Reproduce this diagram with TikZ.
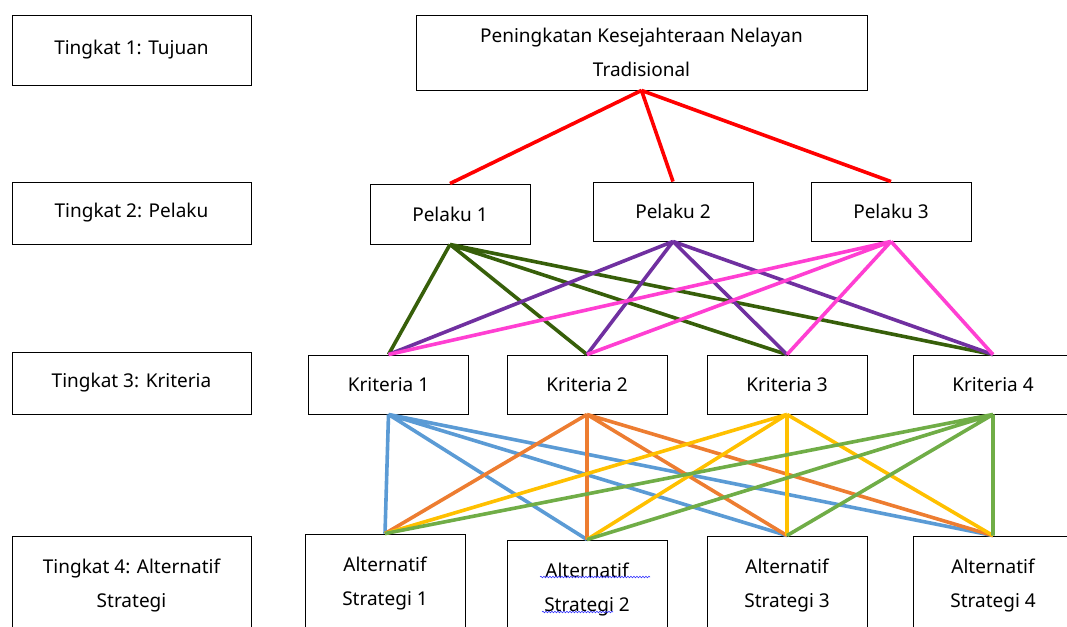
\documentclass[tikz,border=0pt]{standalone}
\usepackage{fontspec}
\setmainfont{Noto Sans}
\usepackage{xcolor}
\usetikzlibrary{positioning, decorations.pathmorphing}

\definecolor{goalred}{HTML}{FF0000}
\definecolor{actorA}{HTML}{375F0A}
\definecolor{actorB}{HTML}{7030A0}
\definecolor{actorC}{HTML}{FF3FD2}
\definecolor{critA}{HTML}{5B9BD5}
\definecolor{critB}{HTML}{ED7D31}
\definecolor{critC}{HTML}{FFC000}
\definecolor{critD}{HTML}{70AD47}

\begin{document}
\begin{tikzpicture}[x=1pt, y=-1pt,
  box/.style={draw, line width=0.9pt, minimum width=160pt, minimum height=60pt,
              inner sep=0pt, align=center, font=\fontsize{19}{34}\selectfont},
  level/.style={box, minimum width=239pt},
  link/.style={line width=3.6pt},
  squiggle/.style={blue!80, line width=0.6pt, decorate,
                   decoration={snake, amplitude=0.8pt, segment length=3pt}}]
  \clip (0,0) rectangle (1067,626);

  % levels on the left
  \node[level, minimum height=70pt]  (lvA) at (131.5,50)  {Tingkat 1: Tujuan};
  \node[level, minimum height=62pt]  (lvB) at (131.5,213) {Tingkat 2: Pelaku};
  \node[level, minimum height=62pt]  (lvC) at (131.5,383) {Tingkat 3: Kriteria};
  \node[level, minimum height=100pt] (lvD) at (131.5,586) {Tingkat 4: Alternatif\\Strategi};

  % hierarchy
  \node[box, minimum width=451pt, minimum height=75pt] (goal) at (641.5,52.5)
       {Peningkatan Kesejahteraan Nelayan\\Tradisional};

  \node[box]                    (pk1) at (450,214)   {Pelaku 1};
  \node[box, minimum height=59pt] (pk2) at (673,211.5) {Pelaku 2};
  \node[box, minimum height=59pt] (pk3) at (891,211.5) {Pelaku 3};

  \node[box, minimum height=59pt] (kr1) at (388.5,384.5) {Kriteria 1};
  \node[box, minimum height=59pt] (kr2) at (587,384.5)   {Kriteria 2};
  \node[box, minimum height=59pt] (kr3) at (787,384.5)   {Kriteria 3};
  \node[box, minimum height=59pt] (kr4) at (993,384.5)   {Kriteria 4};

  \node[box, minimum height=100pt] (as1) at (385,584) {Alternatif\\Strategi 1};
  \node[box, minimum height=100pt] (as2) at (587,590) {Alternatif\\Strategi 2};
  \node[box, minimum height=100pt] (as3) at (787,586) {Alternatif\\Strategi 3};
  \node[box, minimum height=100pt] (as4) at (993,586) {Alternatif\\Strategi 4};

  % spell-check marks
  \draw[squiggle] ([shift={(-47,-13)}]as2.center) -- ([shift={(63,-13)}]as2.center);
  \draw[squiggle] ([shift={(-45,22)}]as2.center) -- ([shift={(26,22)}]as2.center);

  % goal -> actors
  \draw[link, goalred] (goal.south) -- (pk1.north)
                       (goal.south) -- (pk2.north)
                       (goal.south) -- (pk3.north);

  % actors -> criteria
  \draw[link, actorA] (pk1.south) -- (kr1.north) (pk1.south) -- (kr2.north)
                      (pk1.south) -- (kr3.north) (pk1.south) -- (kr4.north);
  \draw[link, actorB] (pk2.south) -- (kr1.north) (pk2.south) -- (kr2.north)
                      (pk2.south) -- (kr3.north) (pk2.south) -- (kr4.north);
  \draw[link, actorC] (pk3.south) -- (kr1.north) (pk3.south) -- (kr2.north)
                      (pk3.south) -- (kr3.north) (pk3.south) -- (kr4.north);

  % criteria -> alternatives
  \draw[link, critA] (kr1.south) -- (as1.north) (kr1.south) -- (as2.north)
                     (kr1.south) -- (as3.north) (kr1.south) -- (as4.north);
  \draw[link, critB] (kr2.south) -- (as1.north) (kr2.south) -- (as2.north)
                     (kr2.south) -- (as3.north) (kr2.south) -- (as4.north);
  \draw[link, critC] (kr3.south) -- (as1.north) (kr3.south) -- (as2.north)
                     (kr3.south) -- (as3.north) (kr3.south) -- (as4.north);
  \draw[link, critD] (kr4.south) -- (as1.north) (kr4.south) -- (as2.north)
                     (kr4.south) -- (as3.north) (kr4.south) -- (as4.north);
\end{tikzpicture}
\end{document}
